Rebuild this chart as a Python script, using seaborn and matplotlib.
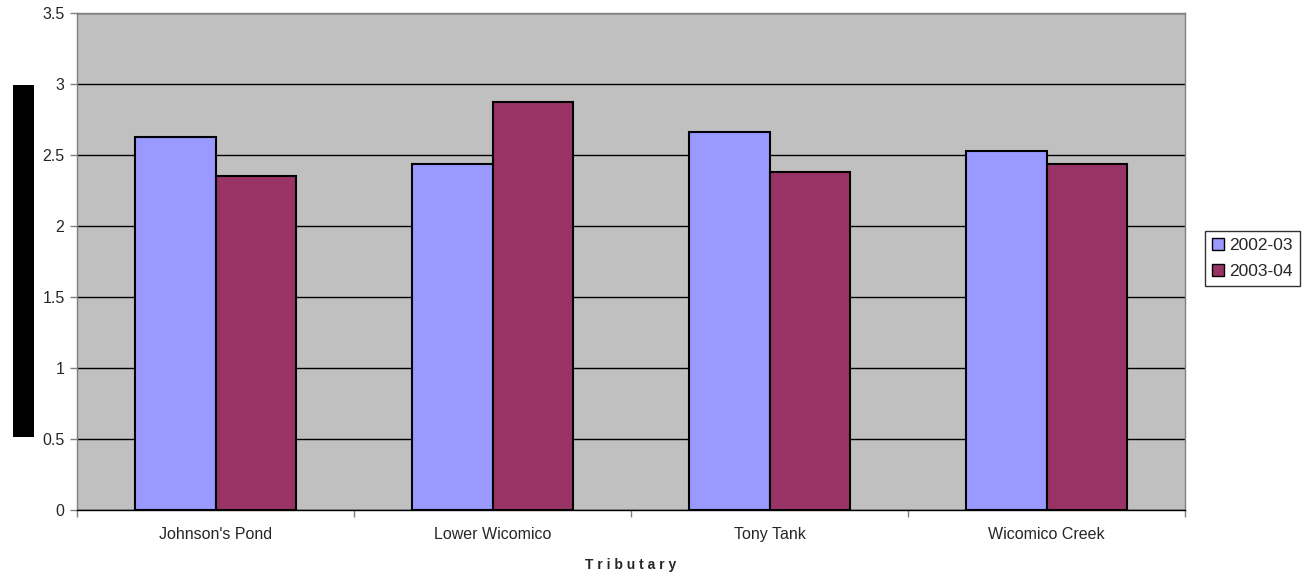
import matplotlib
matplotlib.use("Agg")
import matplotlib.pyplot as plt
import seaborn as sns
import pandas as pd
from matplotlib.patches import Rectangle, Patch

categories = ["Johnson's Pond", "Lower Wicomico", "Tony Tank", "Wicomico Creek"]
series_names = ["2002-03", "2003-04"]
values_2002 = [2.63, 2.44, 2.66, 2.53]
values_2003 = [2.35, 2.87, 2.38, 2.44]
y_ticks = [0, 0.5, 1, 1.5, 2, 2.5, 3, 3.5]
y_tick_labels = ["0", "0.5", "1", "1.5", "2", "2.5", "3", "3.5"]
colors = ["#9999FF", "#993366"]

df = pd.DataFrame({
    "Tributary": categories * 2,
    "Season": [series_names[0]] * 4 + [series_names[1]] * 4,
    "Value": values_2002 + values_2003,
})

sns.set_style("white")
plt.rcParams["font.family"] = ["Liberation Sans", "DejaVu Sans"]

fig = plt.figure(figsize=(13.08, 5.77), dpi=100)
ax = fig.add_axes([77 / 1308, 67 / 577, (1185 - 77) / 1308, (510 - 13) / 577])
ax.set_facecolor("#C0C0C0")

sns.barplot(data=df, x="Tributary", y="Value", hue="Season",
            palette=colors, saturation=1, width=0.58, gap=0, edgecolor="black",
            linewidth=1.5, ax=ax, legend=False, errorbar=None, zorder=3)

ax.set_ylim(0, 3.5)
ax.set_xlim(-0.5, 3.5)
ax.set_yticks(y_ticks)
ax.set_yticklabels(y_tick_labels, fontsize=11.5)
ax.yaxis.grid(True, color="black", linewidth=1)
ax.set_axisbelow(True)
ax.tick_params(axis="y", which="major", direction="out", length=5, width=1,
               color="#808080", pad=4, left=True)
ax.tick_params(axis="x", which="major", length=0, pad=12, labelsize=11.5)
ax.set_xticks([-0.5, 0.5, 1.5, 2.5, 3.5], minor=True)
ax.tick_params(axis="x", which="minor", direction="out", length=5, width=1,
               color="#808080", bottom=True)

for side in ["top", "right", "left"]:
    ax.spines[side].set_color("#808080")
    ax.spines[side].set_linewidth(1)
ax.spines["bottom"].set_color("black")
ax.spines["bottom"].set_linewidth(1)

ax.set_ylabel("")
ax.set_xlabel("T r i b u t a r y", fontsize=10, fontweight="bold", labelpad=11.5)

# black block on the left (y-axis title area)
fig.patches.append(Rectangle((13 / 1308, (577 - 437) / 577), 21 / 1308, 352 / 577,
                             transform=fig.transFigure, facecolor="black",
                             edgecolor="none"))

handles = [Patch(facecolor=c, edgecolor="black", linewidth=1) for c in colors]
leg = fig.legend(handles, series_names, loc="upper left",
                 bbox_to_anchor=(1205 / 1308, (577 - 231) / 577),
                 frameon=True, fancybox=False, fontsize=12.5,
                 handlelength=0.7, handleheight=0.7, handletextpad=0.3,
                 borderpad=0.4, labelspacing=0.6, borderaxespad=0)
leg.get_frame().set_edgecolor("black")
leg.get_frame().set_linewidth(1)

fig.savefig("out.png", dpi=100)
